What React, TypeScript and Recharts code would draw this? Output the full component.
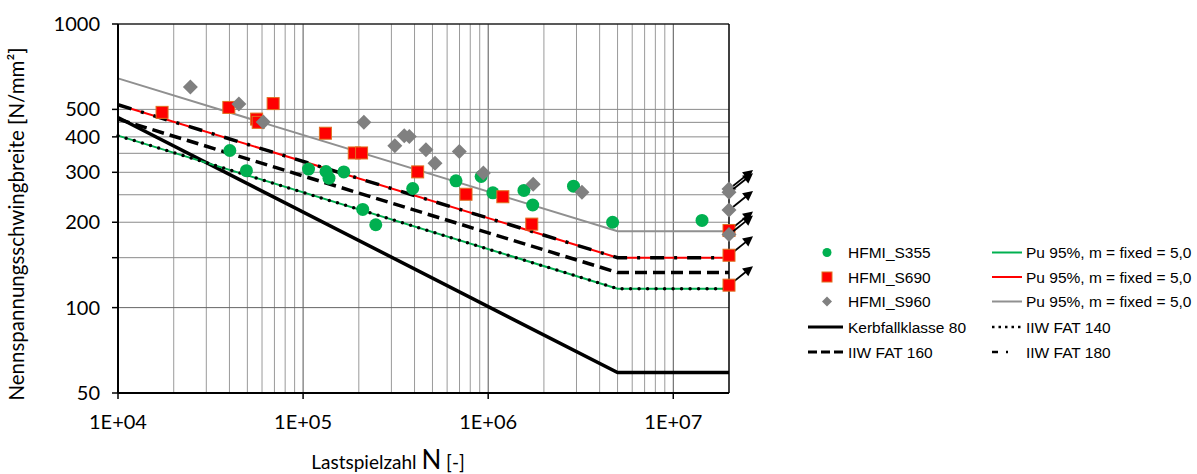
import React from 'react';
import { ComposedChart, Line, Scatter, XAxis, YAxis, ReferenceLine } from 'recharts';

// scatter data [N, stress range]
const s355: [number, number][] = [
  [4.02e4, 358], [4.94e4, 304], [1.07e5, 308], [1.33e5, 302], [1.38e5, 286], [1.66e5, 301],
  [2.1e5, 222], [2.47e5, 196], [3.91e5, 263], [6.7e5, 280], [9.16e5, 290], [1.06e6, 254],
  [1.56e6, 259], [1.74e6, 230], [2.89e6, 268], [4.7e6, 200], [1.43e7, 203],
];
const s690: [number, number][] = [
  [1.73e4, 488], [3.97e4, 508], [5.61e4, 462], [5.72e4, 450], [6.89e4, 524], [1.32e5, 412],
  [1.89e5, 351], [2.07e5, 351], [4.16e5, 301], [7.59e5, 251], [1.2e6, 246], [1.72e6, 197],
];
const s960: [number, number][] = [
  [2.46e4, 600], [4.5e4, 522], [6.09e4, 451], [2.13e5, 450], [3.13e5, 372], [3.52e5, 404],
  [3.75e5, 401], [4.61e5, 360], [5.16e5, 323], [6.98e5, 355], [9.42e5, 298], [1.75e6, 272],
  [3.21e6, 255],
];
// run-outs at 2E7 (arrows)
const s690Runout: [number, number][] = [[2e7, 187], [2e7, 153], [2e7, 120]];
const s960Runout: [number, number][] = [[2e7, 262], [2e7, 255], [2e7, 221], [2e7, 181]];

// S-N curves [N, stress range]
const kerbfall80: [number, number][] = [[1e4, 468], [5e6, 59], [2e7, 59]];
const fat140: [number, number][] = [[1e4, 404], [5e6, 116.6], [2e7, 116.6]];
const fat160: [number, number][] = [[1e4, 462], [5e6, 133], [2e7, 133]];
const fat180: [number, number][] = [[1e4, 519], [5e6, 150], [2e7, 150]];
const pu355: [number, number][] = [[1e4, 404], [5e6, 116.6], [2e7, 116.6]];
const pu690: [number, number][] = [[1e4, 519], [5e6, 150], [2e7, 150]];
const pu960: [number, number][] = [[1e4, 643], [5e6, 186], [2e7, 186]];

const xTicks = [1e4, 1e5, 1e6, 1e7];
const xTickLabels = ['1E+04', '1E+05', '1E+06', '1E+07'];
const yTicks = [50, 100, 150, 200, 250, 300, 350, 400, 450, 500, 1000];
const yLabelled = [50, 100, 200, 300, 400, 500, 1000];
const xGrid = [
  2e4, 3e4, 4e4, 5e4, 6e4, 7e4, 8e4, 9e4, 1e5, 2e5, 3e5, 4e5, 5e5, 6e5, 7e5, 8e5, 9e5, 1e6,
  2e6, 3e6, 4e6, 5e6, 6e6, 7e6, 8e6, 9e6, 1e7,
];
const yGrid = [150, 200, 250, 300, 350, 400, 450, 500];

const pts = (a: [number, number][]) => a.map(([n, s]) => ({ n, s }));

const TICK_FONT = 'Lato, "Noto Sans", sans-serif';

const Circle = (p: any) => <circle cx={p.cx} cy={p.cy} r={6.5} fill="#00b050" />;
const Square = (p: any) => (
  <rect x={p.cx - 6} y={p.cy - 6} width={12} height={12} fill="#ff0000" stroke="#e07020" strokeWidth={1} />
);
const Diamond = (p: any) => (
  <polygon
    points={`${p.cx},${p.cy - 7.5} ${p.cx + 7.5},${p.cy} ${p.cx},${p.cy + 7.5} ${p.cx - 7.5},${p.cy}`}
    fill="#808080"
  />
);

const Arrow = ({ x, y }: { x: number; y: number }) => {
  const x1 = x + 4, y1 = y - 3, x2 = x + 24, y2 = y - 19;
  const dx = x2 - x1, dy = y2 - y1, L = Math.hypot(dx, dy);
  const ux = dx / L, uy = dy / L;
  const bx = x2 - ux * 10, by = y2 - uy * 10;
  return (
    <g>
      <line x1={x1} y1={y1} x2={bx + ux} y2={by + uy} stroke="#000" strokeWidth={1.8} />
      <polygon
        points={`${x2},${y2} ${bx - uy * 5},${by + ux * 5} ${bx + uy * 5},${by - ux * 5}`}
        fill="#000"
      />
    </g>
  );
};

const SquareRunout = (p: any) => (
  <g>
    <Arrow x={p.cx} y={p.cy} />
    <Square {...p} />
  </g>
);
const DiamondRunout = (p: any) => (
  <g>
    <Arrow x={p.cx} y={p.cy} />
    <Diamond {...p} />
  </g>
);

const XTick = (p: any) => {
  const i = xTicks.indexOf(p.payload.value);
  return (
    <g>
      <line x1={p.x} x2={p.x} y1={p.y - 8} y2={p.y - 2} stroke="#000" strokeWidth={1.5} />
      <text x={p.x} y={p.y + 28} textAnchor="middle" fontSize={20} fontFamily={TICK_FONT} fill="#000">
        {xTickLabels[i]}
      </text>
    </g>
  );
};

const YTick = (p: any) => {
  const v = p.payload.value;
  if (!yLabelled.includes(v)) return <g />;
  return (
    <text x={p.x - 10} y={p.y + 7} textAnchor="end" fontSize={20} fontFamily={TICK_FONT} fill="#000">
      {v}
    </text>
  );
};

const legendLeft = [
  { name: 'HFMI_S355', kind: 'circle' },
  { name: 'HFMI_S690', kind: 'square' },
  { name: 'HFMI_S960', kind: 'diamond' },
  { name: 'Kerbfallklasse 80', kind: 'solid' },
  { name: 'IIW FAT 160', kind: 'dash' },
];
const legendRight = [
  { name: 'Pu 95%, m = fixed = 5,0', color: '#00b050', dash: '' },
  { name: 'Pu 95%, m = fixed = 5,0', color: '#ff0000', dash: '' },
  { name: 'Pu 95%, m = fixed = 5,0', color: '#909090', dash: '' },
  { name: 'IIW FAT 140', color: '#000', dash: '2.5 4' },
  { name: 'IIW FAT 180', color: '#000', dash: '6 8 2 30' },
];
const rowY = [252.5, 277, 301.5, 327, 352];

function LegendBox() {
  return (
    <svg width={1197} height={474} style={{ position: 'absolute', left: 0, top: 0, pointerEvents: 'none' }}>
      {legendLeft.map((it, i) => {
        const y = rowY[i];
        let m: React.ReactNode = null;
        if (it.kind === 'circle') m = <circle cx={827} cy={y} r={4.5} fill="#00b050" />;
        if (it.kind === 'square') m = <rect x={822} y={y - 5} width={10} height={10} fill="#ff0000" stroke="#e07020" />;
        if (it.kind === 'diamond') m = <polygon points={`827,${y - 5} 832,${y} 827,${y + 5} 822,${y}`} fill="#808080" />;
        if (it.kind === 'solid') m = <line x1={808} x2={843} y1={y} y2={y} stroke="#000" strokeWidth={3} />;
        if (it.kind === 'dash') m = <line x1={808} x2={843} y1={y} y2={y} stroke="#000" strokeWidth={3} strokeDasharray="9 4" />;
        return (
          <g key={i}>
            {m}
            <text x={848} y={y + 5.5} fontSize={15.5} fontFamily="'Liberation Sans', Arial, sans-serif" fill="#000">
              {it.name}
            </text>
          </g>
        );
      })}
      {legendRight.map((it, i) => {
        const y = rowY[i];
        return (
          <g key={i}>
            <line x1={992} x2={1022} y1={y} y2={y} stroke={it.color} strokeWidth={it.dash ? 2.5 : 2}
              strokeDasharray={it.dash || undefined} />
            <text x={1026} y={y + 5.5} fontSize={15.5} fontFamily="'Liberation Sans', Arial, sans-serif" fill="#000">
              {it.name}
            </text>
          </g>
        );
      })}
      <text x={388} y={469} textAnchor="middle" fontFamily={TICK_FONT} fontSize={19} fill="#000">
        Lastspielzahl <tspan fontSize={26}>N</tspan> [-]
      </text>
      <text
        transform="translate(24,224) rotate(-90)"
        textAnchor="middle"
        fontFamily={TICK_FONT}
        fontSize={20.5}
        fill="#000"
      >
        Nennspannungsschwingbreite [N/mm²]
      </text>
    </svg>
  );
}

export default function App() {
  return (
    <div style={{ position: 'absolute', left: 0, top: 0, width: 1197, height: 474, background: '#fff' }}>
      <ComposedChart width={1197} height={474} margin={{ top: 24, right: 468, bottom: 31, left: 0 }}>
        <XAxis
          dataKey="n"
          type="number"
          scale="log"
          domain={[1e4, 2e7]}
          ticks={xTicks}
          tick={<XTick />}
          tickLine={false}
          height={50}
          axisLine={{ stroke: '#000', strokeWidth: 2 }}
        />
        <YAxis
          dataKey="s"
          type="number"
          scale="log"
          domain={[50, 1000]}
          ticks={yTicks}
          tick={<YTick />}
          tickSize={6}
          tickLine={{ stroke: '#000', strokeWidth: 1.5 }}
          width={118}
          axisLine={{ stroke: '#000', strokeWidth: 2 }}
        />
        {xGrid.map((v) => (
          <ReferenceLine key={'x' + v} x={v} stroke={[1e5, 1e6, 1e7].includes(v) ? '#555' : '#9a9a9a'} strokeWidth={1} />
        ))}
        {yGrid.map((v) => (
          <ReferenceLine key={'y' + v} y={v} stroke="#8a8a8a" strokeWidth={1} />
        ))}
        {[100].map((v) => (
          <ReferenceLine key={'yd' + v} y={v} stroke="#666" strokeWidth={1} />
        ))}
        <ReferenceLine y={1000} stroke="#222" strokeWidth={1.5} />
        <ReferenceLine x={2e7} stroke="#000" strokeWidth={1.5} />

        <Line data={pts(kerbfall80)} dataKey="s" stroke="#000" strokeWidth={3.5} dot={false} isAnimationActive={false} />
        <Line data={pts(pu355)} dataKey="s" stroke="#00b050" strokeWidth={2} dot={false} isAnimationActive={false} />
        <Line data={pts(fat140)} dataKey="s" stroke="#000" strokeWidth={3.5} strokeDasharray="0 8.5" strokeLinecap="round" dot={false} isAnimationActive={false} />
        <Line data={pts(fat160)} dataKey="s" stroke="#000" strokeWidth={3.5} strokeDasharray="12 6" dot={false} isAnimationActive={false} />
        <Line data={pts(pu690)} dataKey="s" stroke="#ff0000" strokeWidth={2} dot={false} isAnimationActive={false} />
        <Line data={pts(fat180)} dataKey="s" stroke="#000" strokeWidth={3.5} strokeDasharray="14 10 3 10" dot={false} isAnimationActive={false} />
        <Line data={pts(pu960)} dataKey="s" stroke="#909090" strokeWidth={2} dot={false} isAnimationActive={false} />

        <Scatter data={pts(s355)} dataKey="s" shape={<Circle />} isAnimationActive={false} />
        <Scatter data={pts(s690)} dataKey="s" shape={<Square />} isAnimationActive={false} />
        <Scatter data={pts(s960)} dataKey="s" shape={<Diamond />} isAnimationActive={false} />
        <Scatter data={pts(s690Runout)} dataKey="s" shape={<SquareRunout />} isAnimationActive={false} />
        <Scatter data={pts(s960Runout)} dataKey="s" shape={<DiamondRunout />} isAnimationActive={false} />
      </ComposedChart>
      <LegendBox />
    </div>
  );
}
